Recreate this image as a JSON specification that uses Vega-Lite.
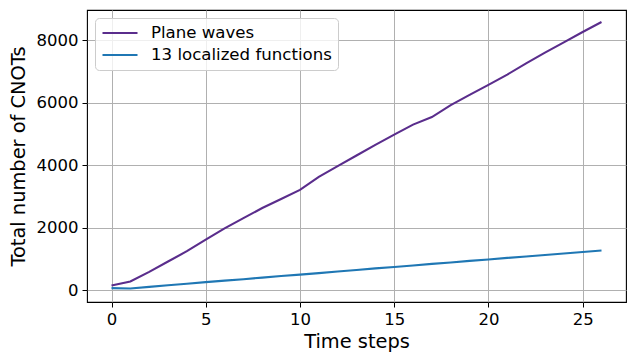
{
  "$schema": "https://vega.github.io/schema/vega-lite/v6.json",
  "width": 539,
  "height": 292,
  "autosize": {"type": "none"},
  "padding": {"left": 87, "top": 10, "right": 3, "bottom": 53},
  "background": "white",
  "config": {
    "font": "DejaVu Sans",
    "view": {"stroke": "black", "strokeWidth": 1.1},
    "axis": {
      "domain": false,
      "grid": true,
      "gridColor": "#b0b0b0",
      "gridWidth": 1,
      "tickColor": "black",
      "tickSize": 5,
      "tickWidth": 1,
      "labelFont": "DejaVu Sans",
      "labelFontSize": 16.5,
      "labelColor": "black",
      "titleFont": "DejaVu Sans",
      "titleFontSize": 19.4,
      "titleFontWeight": "normal",
      "titleColor": "black"
    }
  },
  "data": {
    "values": [
      {"t": 0, "v": 150, "s": "Plane waves"},
      {"t": 1, "v": 280, "s": "Plane waves"},
      {"t": 2, "v": 590, "s": "Plane waves"},
      {"t": 3, "v": 920, "s": "Plane waves"},
      {"t": 4, "v": 1250, "s": "Plane waves"},
      {"t": 5, "v": 1620, "s": "Plane waves"},
      {"t": 6, "v": 1980, "s": "Plane waves"},
      {"t": 7, "v": 2310, "s": "Plane waves"},
      {"t": 8, "v": 2630, "s": "Plane waves"},
      {"t": 9, "v": 2920, "s": "Plane waves"},
      {"t": 10, "v": 3210, "s": "Plane waves"},
      {"t": 11, "v": 3630, "s": "Plane waves"},
      {"t": 12, "v": 3970, "s": "Plane waves"},
      {"t": 13, "v": 4310, "s": "Plane waves"},
      {"t": 14, "v": 4650, "s": "Plane waves"},
      {"t": 15, "v": 4980, "s": "Plane waves"},
      {"t": 16, "v": 5300, "s": "Plane waves"},
      {"t": 17, "v": 5540, "s": "Plane waves"},
      {"t": 18, "v": 5920, "s": "Plane waves"},
      {"t": 19, "v": 6250, "s": "Plane waves"},
      {"t": 20, "v": 6570, "s": "Plane waves"},
      {"t": 21, "v": 6900, "s": "Plane waves"},
      {"t": 22, "v": 7260, "s": "Plane waves"},
      {"t": 23, "v": 7600, "s": "Plane waves"},
      {"t": 24, "v": 7930, "s": "Plane waves"},
      {"t": 25, "v": 8260, "s": "Plane waves"},
      {"t": 26, "v": 8580, "s": "Plane waves"},
      {"t": 0, "v": 70, "s": "13 localized functions"},
      {"t": 1, "v": 55, "s": "13 localized functions"},
      {"t": 2, "v": 110, "s": "13 localized functions"},
      {"t": 3, "v": 160, "s": "13 localized functions"},
      {"t": 4, "v": 210, "s": "13 localized functions"},
      {"t": 5, "v": 260, "s": "13 localized functions"},
      {"t": 6, "v": 310, "s": "13 localized functions"},
      {"t": 7, "v": 355, "s": "13 localized functions"},
      {"t": 8, "v": 405, "s": "13 localized functions"},
      {"t": 9, "v": 455, "s": "13 localized functions"},
      {"t": 10, "v": 500, "s": "13 localized functions"},
      {"t": 11, "v": 550, "s": "13 localized functions"},
      {"t": 12, "v": 600, "s": "13 localized functions"},
      {"t": 13, "v": 650, "s": "13 localized functions"},
      {"t": 14, "v": 700, "s": "13 localized functions"},
      {"t": 15, "v": 745, "s": "13 localized functions"},
      {"t": 16, "v": 795, "s": "13 localized functions"},
      {"t": 17, "v": 845, "s": "13 localized functions"},
      {"t": 18, "v": 890, "s": "13 localized functions"},
      {"t": 19, "v": 940, "s": "13 localized functions"},
      {"t": 20, "v": 985, "s": "13 localized functions"},
      {"t": 21, "v": 1035, "s": "13 localized functions"},
      {"t": 22, "v": 1080, "s": "13 localized functions"},
      {"t": 23, "v": 1130, "s": "13 localized functions"},
      {"t": 24, "v": 1175, "s": "13 localized functions"},
      {"t": 25, "v": 1225, "s": "13 localized functions"},
      {"t": 26, "v": 1270, "s": "13 localized functions"}
    ]
  },
  "mark": {"type": "line", "strokeWidth": 2.1, "clip": true},
  "encoding": {
    "x": {
      "field": "t",
      "type": "quantitative",
      "title": "Time steps",
      "scale": {"domain": [-1.3, 27.3], "nice": false, "zero": false},
      "axis": {"values": [0, 5, 10, 15, 20, 25], "labelPadding": 4, "titlePadding": 5}
    },
    "y": {
      "field": "v",
      "type": "quantitative",
      "title": "Total number of CNOTs",
      "scale": {"domain": [-375, 8965], "nice": false, "zero": false},
      "axis": {"values": [0, 2000, 4000, 6000, 8000], "format": "d", "labelPadding": 4, "titlePadding": 8}
    },
    "color": {
      "field": "s",
      "type": "nominal",
      "sort": ["Plane waves", "13 localized functions"],
      "scale": {"domain": ["Plane waves", "13 localized functions"], "range": ["#5a2d8c", "#1f77b4"]},
      "legend": {
        "title": null,
        "orient": "none",
        "legendX": 8,
        "legendY": 8,
        "symbolType": "stroke",
        "symbolSize": 1225,
        "symbolStrokeWidth": 2.1,
        "clipHeight": 18,
        "labelFont": "DejaVu Sans",
        "labelFontSize": 16.6,
        "labelColor": "black",
        "labelLimit": 400,
        "labelOffset": 12,
        "fillColor": "rgba(255,255,255,0.8)",
        "strokeColor": "#cccccc",
        "cornerRadius": 4,
        "padding": 6,
        "rowPadding": 4
      }
    }
  }
}
